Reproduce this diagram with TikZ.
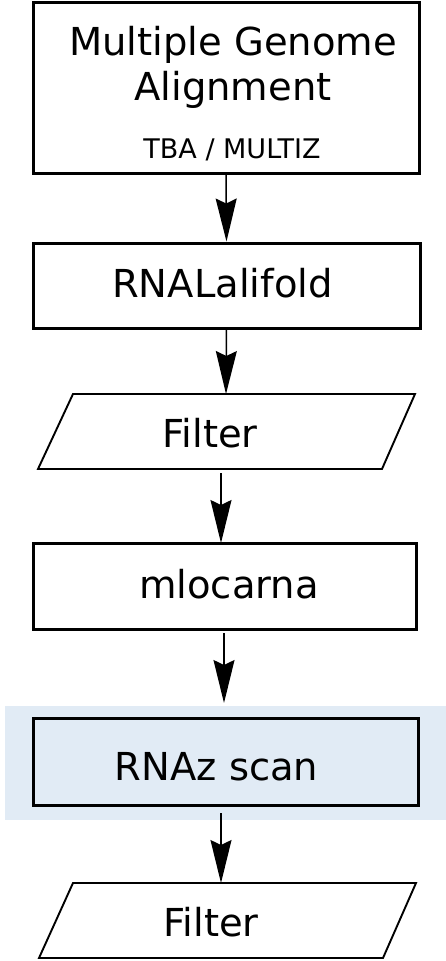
\documentclass[tikz,border=0pt]{standalone}
\usepackage{fontspec}
\setmainfont{DejaVu Sans}
\usetikzlibrary{arrows.meta}
\definecolor{bandblue}{RGB}{225,235,245}
\tikzset{
  boxstyle/.style={draw=black, line width=3pt, rectangle, inner sep=0pt},
  parastyle/.style={draw=black, line width=1.9pt, line join=miter},
  txtbig/.style={inner sep=0pt, anchor=base, font=\fontsize{38.5}{46}\selectfont},
  txtsmall/.style={inner sep=0pt, anchor=base, font=\fontsize{27}{32}\selectfont},
  flow/.style={line width=1.5pt, -{Stealth[length=43pt,width=21pt,inset=5pt]}},
}
\begin{document}
\begin{tikzpicture}[x=1pt,y=-1pt]
\useasboundingbox (0,0) rectangle (446,961);
% highlight band
\fill[bandblue] (5,706) rectangle (446,820);
% box 1
\node[boxstyle, minimum width=386pt, minimum height=171pt] (b1) at (226,87.5) {};
\node[txtbig] (t1a) at (233,55) {Multiple Genome};
\node[txtbig] (t1b) at (233,100) {Alignment};
\node[txtsmall] (t1c) at (232,158) {TBA / MULTIZ};
% box 2
\node[boxstyle, minimum width=387pt, minimum height=85pt] (b2) at (226.5,285.5) {};
\node[txtbig] (t2) at (222.5,297) {RNALalifold};
% filter 1
\draw[parastyle] (73,394) -- (415,394) -- (382,469) -- (38,469) -- cycle;
\coordinate (f1top) at (226,394);
\coordinate (f1bot) at (221,473);
\node[txtbig] (f1) at (210,447) {Filter};
% mlocarna
\node[boxstyle, minimum width=383pt, minimum height=86pt] (b3) at (224.5,586) {};
\node[txtbig] (t3) at (229,598) {mlocarna};
\coordinate (b3top) at (221,543);
\coordinate (b3bot) at (224,633);
% RNAz scan
\node[boxstyle, fill=bandblue, minimum width=385pt, minimum height=87pt] (b4) at (225.5,761.5) {};
\node[txtbig] (t4) at (216.5,780) {RNAz scan};
\coordinate (b4in) at (224,703);
\coordinate (b4bot) at (221,813);
% filter 2
\draw[parastyle] (73,883) -- (416,883) -- (383,958) -- (39,958) -- cycle;
\coordinate (f2top) at (221,883);
\node[txtbig] (f2) at (211,936) {Filter};
% arrows
\draw[flow] (b1.south) -- (b2.north);
\draw[flow] (b2.south) -- (f1top);
\draw[flow] (f1bot) -- (b3top);
\draw[flow] (b3bot) -- (b4in);
\draw[flow] (b4bot) -- (f2top);
\end{tikzpicture}
\end{document}
